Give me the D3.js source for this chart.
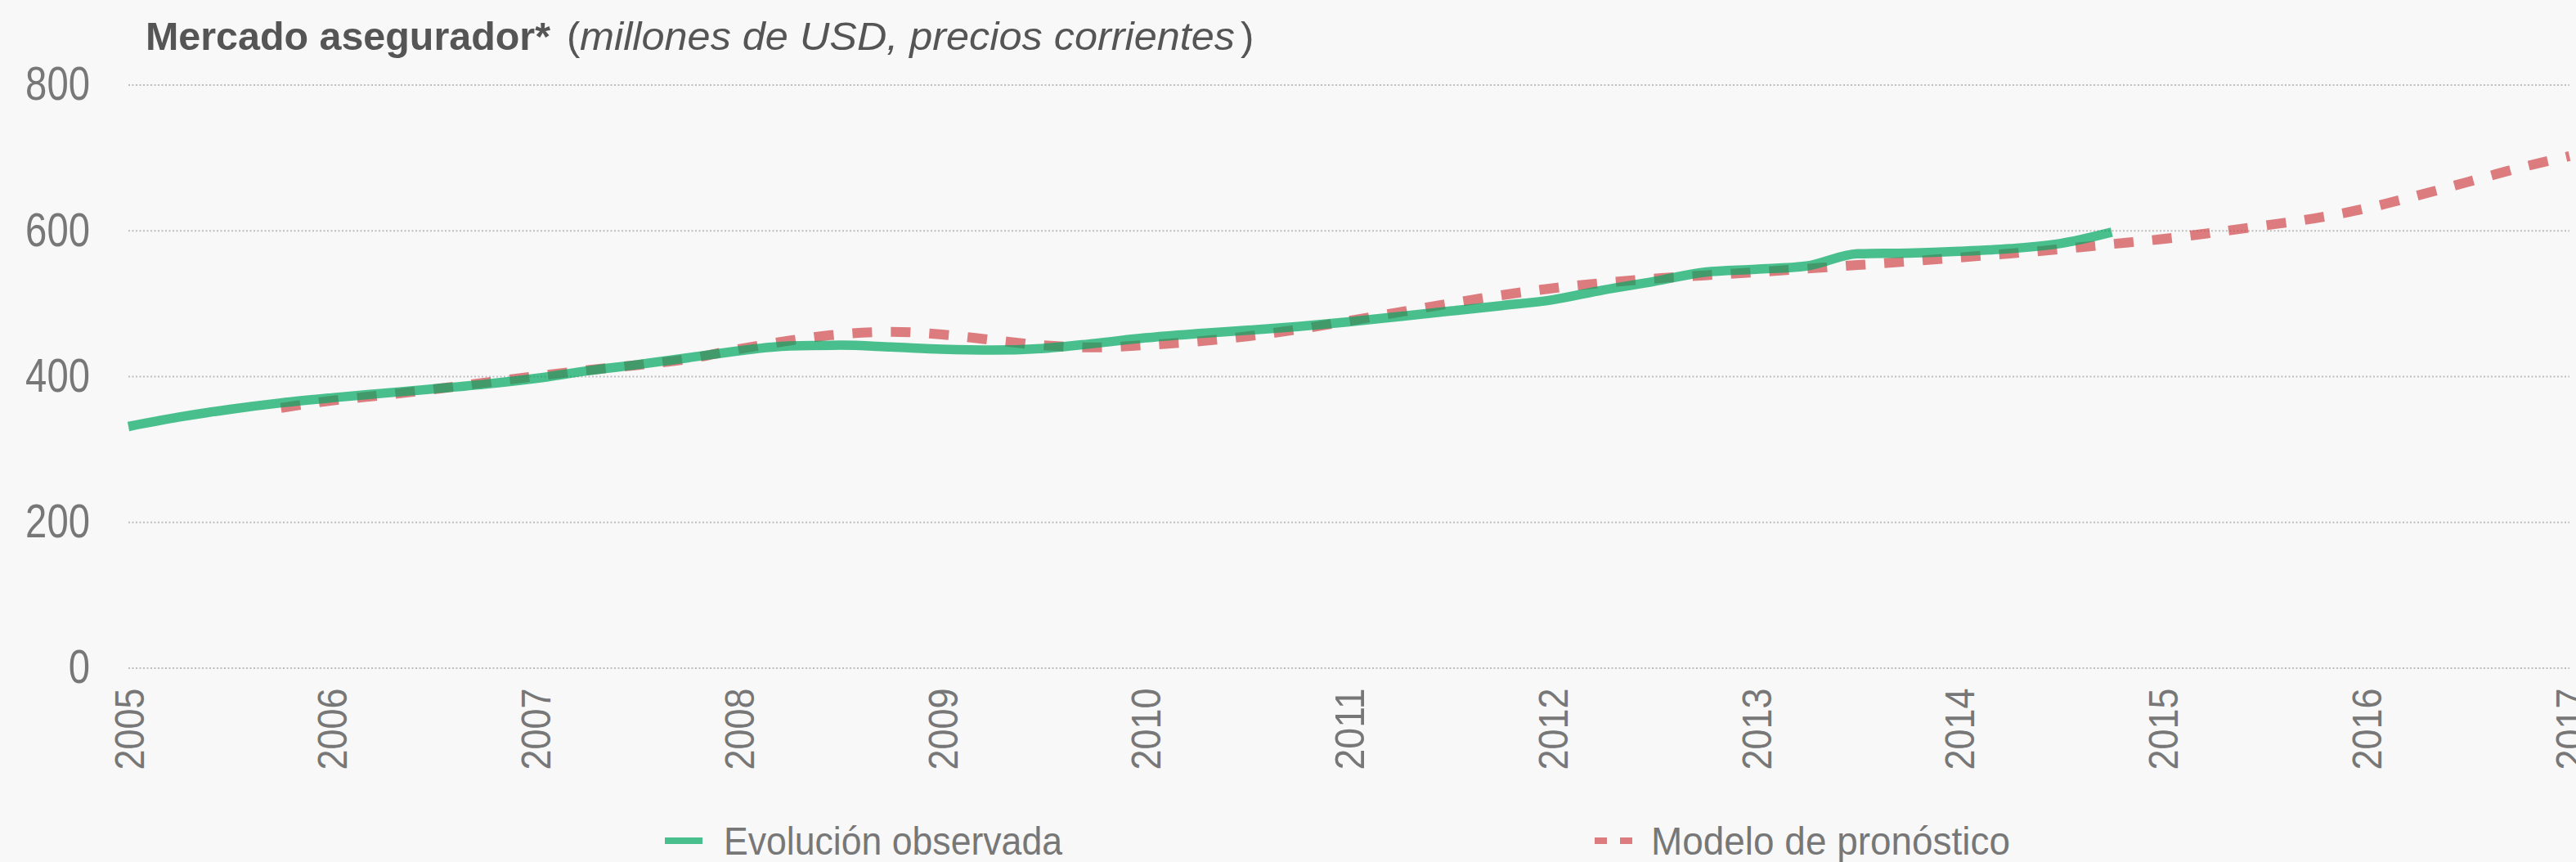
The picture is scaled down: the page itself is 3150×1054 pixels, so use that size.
<!DOCTYPE html>
<html lang="es">
<head>
<meta charset="utf-8">
<title>Mercado asegurador</title>
<script src="https://cdn.jsdelivr.net/npm/d3@7"></script>
<style>
  html, body { margin: 0; padding: 0; background: #f8f8f8; }
  svg { display: block; }
  text { font-family: "Liberation Sans Narrow", "Arial Narrow", "Liberation Sans", sans-serif; }
</style>
</head>
<body>
<div id="chart"></div>
<script>
// Prima del mercado asegurador, millones de USD a precios corrientes (datos trimestrales)
const observedStart = 2005;          // primer trimestre observado
const observedValues = [
  331, 344, 354.6, 363.4, 370.4, 376.6, 382.6, 388.9,
  396.9, 407.1, 415.8, 425.2, 434.8, 441.4, 442.5, 440,
  437, 435.8, 438.2, 445, 452.7, 458.3, 463, 468.2,
  474.6, 482, 489.4, 496.8, 504.8, 518.3, 530, 542.7,
  546.7, 551.2, 568, 569, 571.3, 575, 582.2, 597.6
];

const forecastStart = 2005.75;       // primer trimestre del modelo
const forecastValues = [
  356.5, 366.5, 374, 382.1, 391, 399.8, 408.1, 415.2, 423.6,
  437.1, 448.8, 457.6, 460.9, 457.2, 449.6, 442.3, 439.5,
  442.7, 447.6, 454.7, 464.3, 475.8, 488, 500, 511.1,
  520.7, 528, 533.9, 538.4, 542.7, 547.6, 552.5, 557.4,
  562.9, 568.3, 574.4, 581.3, 588.2, 597.1, 606.7, 616.7,
  630.2, 647.7, 666.5, 685.5, 702
];

const yearTicks = ["2005", "2006", "2007", "2008", "2009", "2010", "2011",
                   "2012", "2013", "2014", "2015", "2016", "2017"];
const valueTicks = [0, 200, 400, 600, 800];

const seriesNames = ["Evolución observada", "Modelo de pronóstico"];
const titleBold = "Mercado asegurador*";
const titleItalic = "millones de USD, precios corrientes";

const W = 3150, H = 1054;
const plot = { left: 157, right: 3142, top: 103.5, bottom: 816.5 };

// Tipografía estrecha: se ajusta el ancho de cada texto
const narrow = (sel, perChar) =>
  sel.attr("textLength", function () { return this.textContent.length * perChar; })
     .attr("lengthAdjust", "spacingAndGlyphs");

const svg = d3.select("#chart").append("svg")
  .attr("width", W).attr("height", H)
  .attr("viewBox", `0 0 ${W} ${H}`);

svg.append("rect").attr("width", W).attr("height", H).attr("fill", "#f8f8f8");

const x = d3.scaleLinear()
  .domain([+yearTicks[0], +yearTicks[yearTicks.length - 1]])
  .range([plot.left, plot.right]);
const y = d3.scaleLinear()
  .domain([0, 800])
  .range([plot.bottom, plot.top]);

// Líneas de cuadrícula punteadas y etiquetas del eje de valores
const yAxis = d3.axisLeft(y)
  .tickValues(valueTicks)
  .tickSize(-(plot.right - plot.left))
  .tickPadding(47)
  .tickFormat(d3.format("d"));

const gy = svg.append("g")
  .attr("transform", `translate(${plot.left},0)`)
  .call(yAxis);
gy.select(".domain").remove();
gy.selectAll(".tick line")
  .attr("stroke", "#bdbdbd")
  .attr("stroke-width", 2)
  .attr("stroke-dasharray", "2,2.5");
gy.selectAll(".tick text")
  .attr("fill", "#777")
  .style("font-size", "57px")
  .call(narrow, 26.3);

// Eje de años, etiquetas verticales
const xAxis = d3.axisBottom(x)
  .tickValues(yearTicks.map(Number))
  .tickSize(0)
  .tickFormat(d3.format("d"));

const gx = svg.append("g")
  .attr("transform", `translate(0,${plot.bottom})`)
  .call(xAxis);
gx.select(".domain").remove();
gx.selectAll(".tick text")
  .attr("fill", "#777")
  .style("font-size", "50px")
  .attr("text-anchor", "end")
  .attr("transform", "rotate(-90)")
  .attr("x", -25)
  .attr("y", 0)
  .attr("dy", "0.36em")
  .call(narrow, 25);

// Series
const observed = observedValues.map((v, i) => ({ t: observedStart + i / 4, v }));
const forecast = forecastValues.map((v, i) => ({ t: forecastStart + i / 4, v }));

const line = d3.line()
  .x(d => x(d.t))
  .y(d => y(d.v))
  .curve(d3.curveMonotoneX);

svg.append("path")
  .datum(forecast)
  .attr("fill", "none")
  .attr("stroke", "#d0474c")
  .attr("stroke-opacity", 0.7)
  .attr("stroke-width", 12)
  .attr("stroke-dasharray", "24,23")
  .attr("d", line);

svg.append("path")
  .datum(observed)
  .attr("fill", "none")
  .attr("stroke", "#00a761")
  .attr("stroke-opacity", 0.7)
  .attr("stroke-width", 11.5)
  .attr("d", line);

// Título
const titleG = svg.append("g")
  .attr("fill", "#555")
  .style("font-size", "49px");
titleG.append("text").attr("x", 178).attr("y", 61)
  .attr("font-weight", "bold")
  .attr("textLength", 495).attr("lengthAdjust", "spacingAndGlyphs")
  .text(titleBold);
titleG.append("text").attr("x", 693).attr("y", 61).text("(");
titleG.append("text").attr("x", 709).attr("y", 61)
  .attr("font-style", "italic")
  .attr("textLength", 801).attr("lengthAdjust", "spacingAndGlyphs")
  .text(titleItalic);
titleG.append("text").attr("x", 1517).attr("y", 61).text(")");

// Leyenda
const legend = svg.append("g");
legend.append("rect")
  .attr("x", 813).attr("y", 1024).attr("width", 46).attr("height", 8)
  .attr("fill", "#00a761").attr("fill-opacity", 0.7);
legend.append("text")
  .attr("x", 885).attr("y", 1045)
  .attr("fill", "#777").style("font-size", "49px")
  .attr("textLength", 414).attr("lengthAdjust", "spacingAndGlyphs")
  .text(seriesNames[0]);

legend.append("line")
  .attr("x1", 1950).attr("x2", 1996).attr("y1", 1028).attr("y2", 1028)
  .attr("stroke", "#d0474c").attr("stroke-opacity", 0.7)
  .attr("stroke-width", 8).attr("stroke-dasharray", "15,16");
legend.append("text")
  .attr("x", 2019).attr("y", 1045)
  .attr("fill", "#777").style("font-size", "49px")
  .attr("textLength", 439).attr("lengthAdjust", "spacingAndGlyphs")
  .text(seriesNames[1]);
</script>
</body>
</html>
